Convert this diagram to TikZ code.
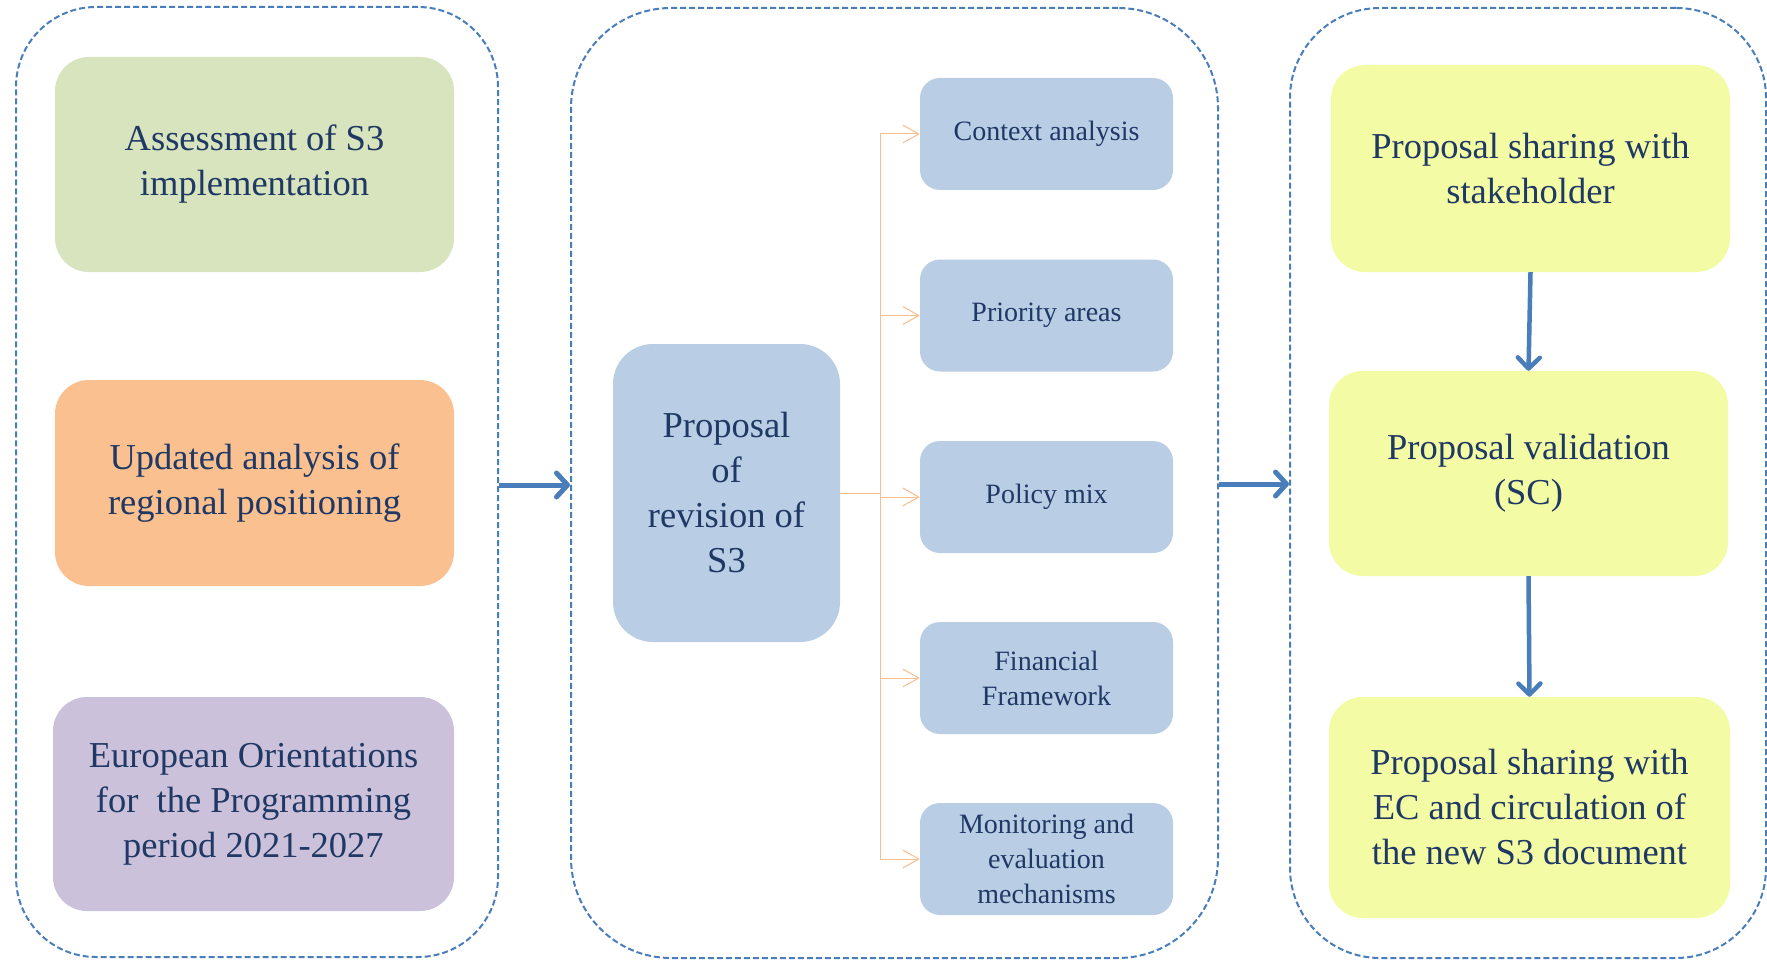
\documentclass[tikz,border=0pt]{standalone}
\usepackage{fontspec}
\setmainfont{Liberation Serif}
\usetikzlibrary{arrows.meta}
\definecolor{frameblue}{HTML}{4A7EBB}
\definecolor{txt}{HTML}{1F3864}
\definecolor{cgreen}{HTML}{D7E4BD}
\definecolor{corange}{HTML}{FAC090}
\definecolor{cpurple}{HTML}{CCC1DA}
\definecolor{cblue}{HTML}{B9CDE5}
\definecolor{cyellow}{HTML}{F3FCA4}
\definecolor{cline}{HTML}{F9BE8C}
\begin{document}
\begin{tikzpicture}[x=1pt,y=-1pt,
  container/.style={draw=frameblue, dash pattern=on 6pt off 3pt, line width=2pt, inner sep=0pt},
  bigbox/.style={inner sep=0pt, text=txt, align=center, font=\fontsize{36.5pt}{45pt}\selectfont, rounded corners=34pt},
  smallbox/.style={fill=cblue, inner sep=0pt, text=txt, align=center, font=\fontsize{28pt}{35pt}\selectfont, rounded corners=20pt, minimum width=253pt, minimum height=112pt},
  bigarrow/.style={draw=frameblue, line width=5pt, -{Straight Barb[length=11pt,width=24pt,line cap=round,line join=round]}},
  vertarrow/.style={draw=frameblue, line width=4.5pt, -{Straight Barb[length=11pt,width=22pt,line cap=round,line join=round]}},
  oline/.style={draw=cline, line width=1pt},
  oarrow/.style={draw=cline, line width=1pt, -{Straight Barb[length=16pt,width=18pt]}}
]
\fill[white] (0,0) rectangle (1767,960);
\useasboundingbox (0,0) rectangle (1767,960);

% containers
\node[container, rounded corners=80pt, minimum width=482pt, minimum height=950pt] (lc) at (257,482) {};
\node[container, rounded corners=100pt, minimum width=647pt, minimum height=950pt] (mc) at (894.5,483) {};
\node[container, rounded corners=90pt, minimum width=476pt, minimum height=950pt] (rc) at (1528,483) {};

% left column
\node[bigbox, fill=cgreen, minimum width=399pt, minimum height=215pt] (ga) at (254.5,164.5) {Assessment of S3\\implementation};
\node[bigbox, fill=corange, minimum width=399pt, minimum height=206pt] (ua) at (254.5,483) {Updated analysis of\\regional positioning};
\node[bigbox, fill=cpurple, minimum width=401pt, minimum height=214pt] (eo) at (253.5,804) {European Orientations\\for~ the Programming\\period 2021-2027};

% middle column
\node[bigbox, fill=cblue, rounded corners=40pt, minimum width=227pt, minimum height=298pt] (pr) at (726.5,493) {Proposal\\of\\revision of\\S3};
\node[smallbox] (ca) at (1046.5,134) {Context analysis};
\node[smallbox] (pa) at (1046.5,315.5) {Priority areas};
\node[smallbox] (pm) at (1046.5,497) {Policy mix};
\node[smallbox] (ff) at (1046.5,678) {Financial\\Framework};
\node[smallbox] (me) at (1046.5,859) {Monitoring and\\evaluation\\mechanisms};

% right column
\node[bigbox, fill=cyellow, minimum width=399pt, minimum height=207pt] (ps) at (1530.5,168.5) {Proposal sharing with\\stakeholder};
\node[bigbox, fill=cyellow, minimum width=399pt, minimum height=205pt] (pv) at (1528.5,473.5) {Proposal validation\\(SC)};
\node[bigbox, fill=cyellow, minimum width=401pt, minimum height=221pt] (pe) at (1529.5,807.5) {Proposal sharing with\\EC and circulation of\\the new S3 document};

% orange tree connectors
\draw[oline] (pr.east) -- ++(40,0) coordinate (tr);
\draw[oarrow] (tr) |- (ca.west);
\draw[oarrow] (tr) |- (pa.west);
\draw[oarrow] (tr) |- (pm.west);
\draw[oarrow] (tr) |- (ff.west);
\draw[oarrow] (tr) |- (me.west);

% big arrows
\draw[bigarrow] ([yshift=-3pt]lc.east) -- ([yshift=-3pt]lc.east -| mc.west);
\draw[bigarrow] ([yshift=-1pt]mc.east) -- ([yshift=-1pt]mc.east -| rc.west);
\draw[vertarrow] (ps.south) -- (pv.north);
\draw[vertarrow] (pv.south) -- (pe.north);
\end{tikzpicture}
\end{document}
